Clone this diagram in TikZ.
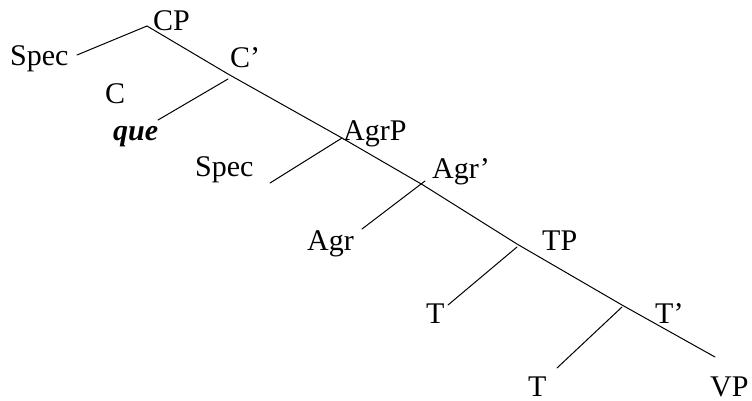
\documentclass[tikz,border=0pt]{standalone}
\usepackage{fontspec}
\setmainfont{Liberation Serif}
\begin{document}
\begin{tikzpicture}[x=1pt,y=-1pt,
  lbl/.style={anchor=base west, inner sep=0pt, font=\fontsize{30}{36}\selectfont},
  edge/.style={line width=1pt, line cap=round, line join=round}]
\useasboundingbox (0,0) rectangle (752,400);
% labels
\node[lbl] (CP)    at (153,30)  {CP};
\node[lbl] (Spec1) at (10,65)   {Spec};
\node[lbl] (Cbar)  at (230,67)  {C’};
\node[lbl] (C)     at (105,103) {C};
\node[lbl] (que)   at (113,140) {\textbf{\textit{que}}};
\node[lbl] (AgrP)  at (343,140) {AgrP};
\node[lbl] (Spec2) at (195,176) {Spec};
\node[lbl] (Agrbar) at (432,178) {Agr’};
\node[lbl] (Agr)   at (307,250) {Agr};
\node[lbl] (TP)    at (542,250) {TP};
\node[lbl] (T1)    at (426,323) {T};
\node[lbl] (Tbar)  at (655,323) {T’};
\node[lbl] (T2)    at (528,396) {T};
\node[lbl] (VP)    at (710,396) {VP};
% spine points
\coordinate (cp)      at (147,26);
\coordinate (cbarm)   at (228,74);
\coordinate (agrpm)   at (342,138);
\coordinate (agrbarm) at (423,185);
\coordinate (tpm)     at (517,244);
\coordinate (tbarm)   at (622,305);
\coordinate (vpend)   at (715,357);
% branch starts
\coordinate (cbarb)   at (228,79);
\coordinate (agrbarb) at (425,181);
\coordinate (tpb)     at (517,247);
\coordinate (tbarb)   at (622,307);
% leaf ends
\coordinate (spec1end) at (77,55);
\coordinate (cend)     at (158,120);
\coordinate (spec2end) at (270,183);
\coordinate (agrend)   at (362,229);
\coordinate (t1end)    at (448,305);
\coordinate (t2end)    at (557,368);
% connectors
\draw[edge] (cp) -- (cbarm) -- (agrpm) -- (agrbarm) -- (tpm) -- (tbarm) -- (vpend);
\draw[edge] (cp) -- (spec1end);
\draw[edge] (cbarb) -- (cend);
\draw[edge] (agrpm) -- (spec2end);
\draw[edge] (agrbarb) -- (agrend);
\draw[edge] (tpb) -- (t1end);
\draw[edge] (tbarb) -- (t2end);
\end{tikzpicture}
\end{document}
